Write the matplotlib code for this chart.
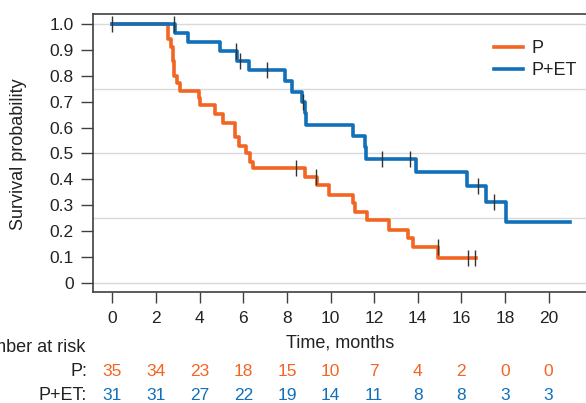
import numpy as np
import matplotlib
matplotlib.use('Agg')
from matplotlib import pyplot as plt
from matplotlib import transforms

plt.rcParams['font.family'] = ['Liberation Sans', 'DejaVu Sans']

# step data (time in months, survival after the drop)
p_times = [2.56, 2.67, 2.76, 2.82, 2.94, 3.10, 3.95, 4.02, 4.70, 5.05, 5.62, 5.82, 6.12,
           6.31, 6.46, 8.83, 9.37, 9.95, 11.02, 11.12, 11.66, 12.70, 13.57, 13.77, 14.95]
p_surv = [0.943, 0.914, 0.857, 0.800, 0.771, 0.743, 0.714, 0.686, 0.651, 0.617, 0.565, 0.530, 0.501,
          0.468, 0.443, 0.410, 0.378, 0.341, 0.307, 0.275, 0.243, 0.204, 0.172, 0.139, 0.094]
p_end = 16.67
p_cens = [8.40, 9.33, 14.92, 16.29, 16.63]

et_times = [2.87, 3.45, 4.93, 5.72, 6.28, 7.93, 8.24, 8.68, 8.83, 8.88, 11.02, 11.58, 11.63,
            13.92, 16.28, 17.13, 18.05]
et_surv = [0.968, 0.933, 0.897, 0.858, 0.823, 0.781, 0.739, 0.700, 0.656, 0.610, 0.569, 0.526, 0.479,
           0.427, 0.375, 0.313, 0.234]
et_end = 20.99
et_cens = [0.0, 2.82, 5.67, 5.85, 7.07, 8.75, 12.35, 13.65, 16.78, 17.5]

risk_times = [0, 2, 4, 6, 8, 10, 12, 14, 16, 18, 20]
p_risk = [35, 34, 23, 18, 15, 10, 7, 4, 2, 0, 0]
et_risk = [31, 31, 27, 22, 19, 14, 11, 8, 8, 3, 3]

C_P = '#F26522'
C_ET = '#1070BA'
TXT = '#222222'
AX = '#404040'
FS = 12.5   # ticks and numbers
FL = 13     # labels and legend

def curve(times, surv, end):
	x = np.concatenate([[0.0], times, [end]])
	y = np.concatenate([[1.0], surv, [surv[-1]]])
	return x, y

def at(times, surv, t):
	idx = np.searchsorted(times, t, side='right')
	return 1.0 if idx == 0 else surv[idx - 1]

fig = plt.figure(figsize=(5.86, 4.03), dpi=100)
ax = fig.add_axes([0.1592, 0.2754, 0.870, 0.690])

for yy in [0, 0.25, 0.5, 0.75, 1.0]:
	ax.axhline(yy, color='#d9d9d9', lw=1, zorder=0)

x, y = curve(p_times, p_surv, p_end)
ax.step(x, y, where='post', color=C_P, lw=2.6, label='P', zorder=3)
x, y = curve(et_times, et_surv, et_end)
ax.step(x, y, where='post', color=C_ET, lw=2.6, label='P+ET', zorder=3)

ax.plot(p_cens, [at(p_times, p_surv, t) for t in p_cens], '|', color='#333333', ms=12, mew=1, zorder=4)
ax.plot(et_cens, [at(et_times, et_surv, t) for t in et_cens], '|', color='#333333', ms=12, mew=1, zorder=4)

ax.set_xlim(-0.88, 22.5)
ax.set_ylim(-0.036, 1.040)
ax.set_xticks(risk_times)
ax.set_yticks(np.arange(0, 1.01, 0.1))
ax.set_yticklabels(['0'] + ['%.1f' % v for v in np.arange(0.1, 1.01, 0.1)])
ax.tick_params(width=1, color=AX, labelcolor=TXT, labelsize=FS)
ax.tick_params(axis='y', length=8.6, pad=5.5)
ax.tick_params(axis='x', length=8, pad=5.5)
for s in ax.spines.values():
	s.set_color(AX)
	s.set_linewidth(1.2)

fig.text(19/586, 1 - 154/403, 'Survival probability', rotation=90, ha='center', va='center',
	fontsize=FL, color=TXT)
fig.text(340/586, 1 - 343/403, 'Time, months', ha='center', va='center', fontsize=FL, color=TXT)

leg = ax.legend(loc='upper left', bbox_to_anchor=(494/586, 1 - 40/403), bbox_transform=fig.transFigure,
	frameon=False, fontsize=FL, handlelength=1.6, handletextpad=0.5, labelspacing=0.3,
	borderpad=0, borderaxespad=0)
for t in leg.get_texts():
	t.set_color(TXT)

# number at risk table
trans = transforms.blended_transform_factory(ax.transData, fig.transFigure)
fig.text(85/586, 1 - 347/403, 'Number at risk', ha='right', va='center', fontsize=FL, color=TXT)
fig.text(87/586, 1 - 372/403, 'P:', ha='right', va='center', fontsize=FL, color=TXT)
fig.text(87/586, 1 - 396/403, 'P+ET:', ha='right', va='center', fontsize=FL, color=TXT)
for tt, n1, n2 in zip(risk_times, p_risk, et_risk):
	ax.text(tt, 1 - 372/403, str(n1), transform=trans, ha='center', va='center', fontsize=FS, color=C_P)
	ax.text(tt, 1 - 396/403, str(n2), transform=trans, ha='center', va='center', fontsize=FS, color=C_ET)

fig.savefig('out.png', dpi=100)
